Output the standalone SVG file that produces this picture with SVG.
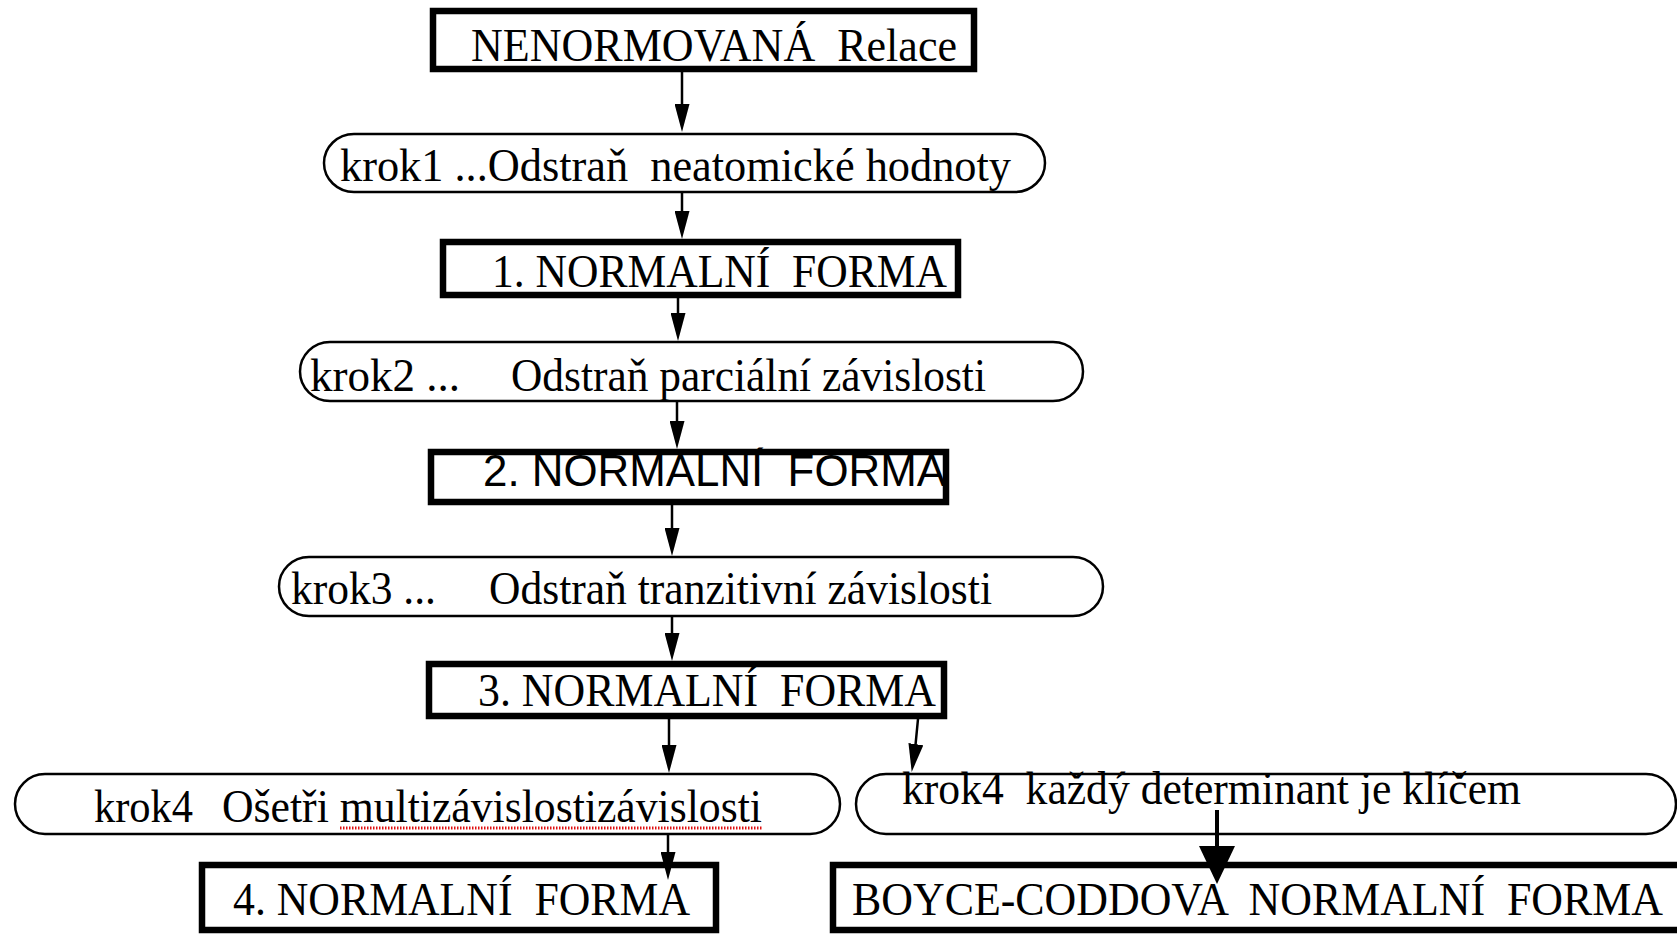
<svg xmlns="http://www.w3.org/2000/svg" width="1677" height="937" viewBox="0 0 1677 937" xml:space="preserve">
  <style>
    .box { fill: #fff; stroke: #000; stroke-width: 6.5; }
    .pill { fill: #fff; stroke: #000; stroke-width: 2.5; }
    .t { font-family: "Liberation Serif", "Times New Roman", serif; font-size: 46px; fill: #000; white-space: pre; }
    .ts { font-family: "Liberation Sans", Arial, sans-serif; font-size: 45px; fill: #000; white-space: pre; }
    .edge { fill: none; stroke: #000; stroke-width: 2.5; }
    .edge-big { fill: none; stroke: #000; stroke-width: 4; }
    .squiggle { fill: none; stroke: #e01010; stroke-width: 3; stroke-dasharray: 1.5 1.5; }
  </style>
  <defs>
    <!-- standard arrowhead: tip sits 10px beyond the line end -->
    <marker id="head" markerUnits="userSpaceOnUse" markerWidth="28" markerHeight="15" refX="18" refY="7.5" orient="auto" viewBox="0 0 28 15">
      <path d="M0,0 L28,7.5 L0,15 z" fill="#000"/>
    </marker>
    <!-- large arrowhead for the BCNF step -->
    <marker id="head-big" markerUnits="userSpaceOnUse" markerWidth="38" markerHeight="36" refX="26" refY="18" orient="auto" viewBox="0 0 38 36">
      <path d="M0,0 L38,18 L0,36 z" fill="#000"/>
    </marker>
  </defs>

  <rect width="1677" height="937" fill="#fff"/>

  <g id="unnormalized">
    <rect class="box" x="433" y="11" width="541" height="58"/>
    <text class="t" x="471" y="61" textLength="486" lengthAdjust="spacingAndGlyphs">NENORMOVANÁ  Relace</text>
  </g>

  <g id="step1">
    <rect class="pill" x="324" y="134" width="721" height="58" rx="30" ry="29"/>
    <text class="t" x="340" y="181" textLength="671" lengthAdjust="spacingAndGlyphs">krok1 ...Odstraň  neatomické hodnoty</text>
  </g>

  <g id="nf1">
    <rect class="box" x="443" y="242" width="515" height="53"/>
    <text class="t" x="492" y="287" textLength="455" lengthAdjust="spacingAndGlyphs">1. NORMALNÍ  FORMA</text>
  </g>

  <g id="step2">
    <rect class="pill" x="300" y="342" width="783" height="59" rx="30" ry="29.5"/>
    <text class="t" y="391"><tspan x="310" textLength="150" lengthAdjust="spacingAndGlyphs">krok2 ...</tspan><tspan x="511" textLength="475" lengthAdjust="spacingAndGlyphs">Odstraň parciální závislosti</tspan></text>
  </g>

  <g id="nf2">
    <rect class="box" x="431" y="452" width="515" height="50"/>
    <text class="ts" x="483" y="486" textLength="463" lengthAdjust="spacingAndGlyphs">2. NORMALNÍ  FORMA</text>
  </g>

  <g id="step3">
    <rect class="pill" x="279" y="557" width="824" height="59" rx="30" ry="29.5"/>
    <text class="t" y="604"><tspan x="291" textLength="145" lengthAdjust="spacingAndGlyphs">krok3 ...</tspan><tspan x="489" textLength="503" lengthAdjust="spacingAndGlyphs">Odstraň tranzitivní závislosti</tspan></text>
  </g>

  <g id="nf3">
    <rect class="box" x="429" y="664" width="515" height="52"/>
    <text class="t" x="478" y="706" textLength="458" lengthAdjust="spacingAndGlyphs">3. NORMALNÍ  FORMA</text>
  </g>

  <g id="step4-multi">
    <rect class="pill" x="15" y="774" width="825" height="60" rx="30" ry="30"/>
    <text class="t" y="822"><tspan x="94" textLength="99" lengthAdjust="spacingAndGlyphs">krok4</tspan><tspan x="222" textLength="540" lengthAdjust="spacingAndGlyphs">Ošetři multizávislostizávislosti</tspan></text>
    <line class="squiggle" x1="340" y1="828" x2="762" y2="828"/>
  </g>

  <g id="step4-bcnf">
    <rect class="pill" x="856" y="774" width="820" height="60" rx="30" ry="30"/>
    <text class="t" x="902" y="804" textLength="619" lengthAdjust="spacingAndGlyphs">krok4  každý determinant je klíčem</text>
  </g>

  <g id="nf4">
    <rect class="box" x="202" y="865" width="514" height="65"/>
    <text class="t" x="233" y="915" textLength="457" lengthAdjust="spacingAndGlyphs">4. NORMALNÍ  FORMA</text>
  </g>

  <g id="bcnf">
    <rect class="box" x="833" y="865" width="900" height="65"/>
    <text class="t" x="852" y="915" textLength="811" lengthAdjust="spacingAndGlyphs">BOYCE-CODDOVA  NORMALNÍ  FORMA</text>
  </g>

  <g id="connectors">
    <line class="edge" x1="682" y1="71" x2="682" y2="122" marker-end="url(#head)"/>
    <line class="edge" x1="682" y1="192" x2="682" y2="229" marker-end="url(#head)"/>
    <line class="edge" x1="678" y1="298" x2="678" y2="331" marker-end="url(#head)"/>
    <line class="edge" x1="677" y1="401" x2="677" y2="439" marker-end="url(#head)"/>
    <line class="edge" x1="672" y1="505" x2="672" y2="546" marker-end="url(#head)"/>
    <line class="edge" x1="672" y1="616" x2="672" y2="651" marker-end="url(#head)"/>
    <line class="edge" x1="669" y1="719" x2="669" y2="763" marker-end="url(#head)"/>
    <polyline class="edge" points="918,719 915,750 913.2,762" marker-end="url(#head)"/>
    <line class="edge" x1="668" y1="834" x2="668" y2="870" marker-end="url(#head)"/>
    <line class="edge-big" x1="1217" y1="810" x2="1217" y2="872" marker-end="url(#head-big)"/>
  </g>
</svg>
